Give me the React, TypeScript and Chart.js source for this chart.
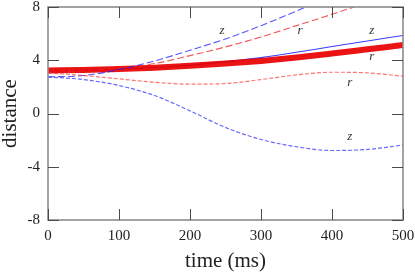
import React, { useEffect, useRef } from "react";
import { Chart, registerables } from "chart.js";

Chart.register(...registerables);

const times = [0, 50, 100, 150, 200, 250, 300, 350, 400, 450, 500];

const rThick = [3.23, 3.27, 3.34, 3.44, 3.58, 3.75, 3.95, 4.2, 4.5, 4.82, 5.14];
const zSolid = [3.2, 3.25, 3.33, 3.45, 3.62, 3.88, 4.2, 4.6, 5.03, 5.45, 5.86];
const zUpper = [2.75, 2.85, 3.3, 3.95, 4.75, 5.6, 6.6, 7.7, 8.9, 10.1, 11.4];
const rUpper = [3.2, 3.25, 3.4, 3.75, 4.35, 5.0, 5.75, 6.6, 7.45, 8.35, 9.3];
const rLower = [3.05, 2.85, 2.6, 2.35, 2.2, 2.25, 2.55, 2.9, 3.1, 3.05, 2.8];
const zLower = [2.75, 2.55, 2.1, 1.35, 0.2, -1.05, -1.95, -2.5, -2.78, -2.7, -2.37];

const xTicks = [0, 100, 200, 300, 400, 500];
const yTicks = [-8, -4, 0, 4, 8];

const labelTexts = ["z", "r", "z", "r", "r", "z"];
const labelX = [245, 355, 456, 456, 425, 425];
const labelY = [6.2, 6.2, 6.2, 4.25, 2.3, -1.77];

const serif = "'Liberation Serif', 'Times New Roman', serif";

const pts = (vals: number[]) => times.map((t, i) => ({ x: t, y: vals[i] }));

const framePlugin = {
  id: "frame",
  afterDatasetsDraw(chart: any) {
    const { ctx, chartArea: a, scales } = chart;
    const xs = scales.x;
    const ys = scales.y;
    ctx.save();
    // curve labels
    ctx.fillStyle = "#333";
    ctx.font = `italic 13px ${serif}`;
    ctx.textAlign = "center";
    ctx.textBaseline = "middle";
    labelTexts.forEach((t, i) => {
      ctx.fillText(t, xs.getPixelForValue(labelX[i]), ys.getPixelForValue(labelY[i]));
    });
    // box
    ctx.strokeStyle = "#8c8c8c";
    ctx.lineWidth = 1.6;
    ctx.strokeRect(a.left, a.top, a.right - a.left, a.bottom - a.top);
    // inward ticks
    ctx.strokeStyle = "#4a4a4a";
    ctx.lineWidth = 1;
    const L = 11;
    ctx.beginPath();
    xTicks.forEach((v) => {
      const px = Math.round(xs.getPixelForValue(v)) + 0.5;
      ctx.moveTo(px, a.bottom);
      ctx.lineTo(px, a.bottom - L);
      ctx.moveTo(px, a.top);
      ctx.lineTo(px, a.top + L);
    });
    yTicks.forEach((v) => {
      const py = Math.round(ys.getPixelForValue(v)) + 0.5;
      ctx.moveTo(a.left, py);
      ctx.lineTo(a.left + L, py);
      ctx.moveTo(a.right, py);
      ctx.lineTo(a.right - L, py);
    });
    ctx.stroke();
    ctx.restore();
  },
};

export default function App() {
  const ref = useRef<HTMLCanvasElement | null>(null);
  useEffect(() => {
    if (!ref.current) return;
    const line = (vals: number[], color: string, width: number, dash: number[]) => ({
      data: pts(vals),
      borderColor: color,
      borderWidth: width,
      borderDash: dash,
      pointRadius: 0,
      fill: false,
      cubicInterpolationMode: "monotone" as const,
    });
    const chart = new Chart(ref.current, {
      type: "line",
      data: {
        datasets: [
          line(zLower, "rgba(40,40,255,0.7)", 1.2, [4, 2]),
          line(rLower, "rgba(255,40,40,0.65)", 1.2, [4, 2]),
          line(zUpper, "rgba(30,30,255,0.75)", 1.1, [7, 3]),
          line(rUpper, "rgba(240,30,30,0.75)", 1.1, [7, 3]),
          line(rThick, "rgba(232,0,0,0.92)", 6, []),
          line(zSolid, "rgba(40,40,255,0.9)", 1.1, []),
        ],
      },
      plugins: [framePlugin],
      options: {
        animation: false,
        responsive: false,
        events: [],
        layout: { padding: { top: 7, right: 12, left: 0, bottom: 0 } },
        plugins: { legend: { display: false }, tooltip: { enabled: false } },
        scales: {
          x: {
            type: "linear",
            min: 0,
            max: 500,
            afterFit: (s: any) => {
              s.height = 54;
              s.paddingLeft = 0;
              s.paddingRight = 0;
            },
            afterBuildTicks: (s: any) => {
              s.ticks = xTicks.map((v) => ({ value: v }));
            },
            grid: { display: false, drawTicks: false },
            border: { display: false },
            ticks: {
              color: "#222",
              font: { family: serif, size: 15 },
              padding: 7,
              maxRotation: 0,
            },
            title: {
              display: true,
              text: "time (ms)",
              color: "#222",
              font: { family: serif, size: 21, lineHeight: 1 },
              padding: { top: 0, bottom: 2 },
            },
          },
          y: {
            type: "linear",
            min: -8,
            max: 8,
            afterFit: (s: any) => {
              s.width = 48;
              s.paddingTop = 0;
              s.paddingBottom = 0;
            },
            afterBuildTicks: (s: any) => {
              s.ticks = yTicks.map((v) => ({ value: v }));
            },
            grid: { display: false, drawTicks: false },
            border: { display: false },
            ticks: {
              color: "#222",
              font: { family: serif, size: 15 },
              padding: 8,
              callback: (v: any) => String(v),
            },
            title: {
              display: true,
              text: "distance",
              color: "#222",
              font: { family: serif, size: 21, lineHeight: 1 },
              padding: { top: 0, bottom: 0 },
            },
          },
        },
      },
    });
    return () => chart.destroy();
  }, []);
  return (
    <div style={{ position: "absolute", left: 0, top: 0, width: 415, height: 274, background: "#fff" }}>
      <canvas ref={ref} width={415} height={274} />
    </div>
  );
}
